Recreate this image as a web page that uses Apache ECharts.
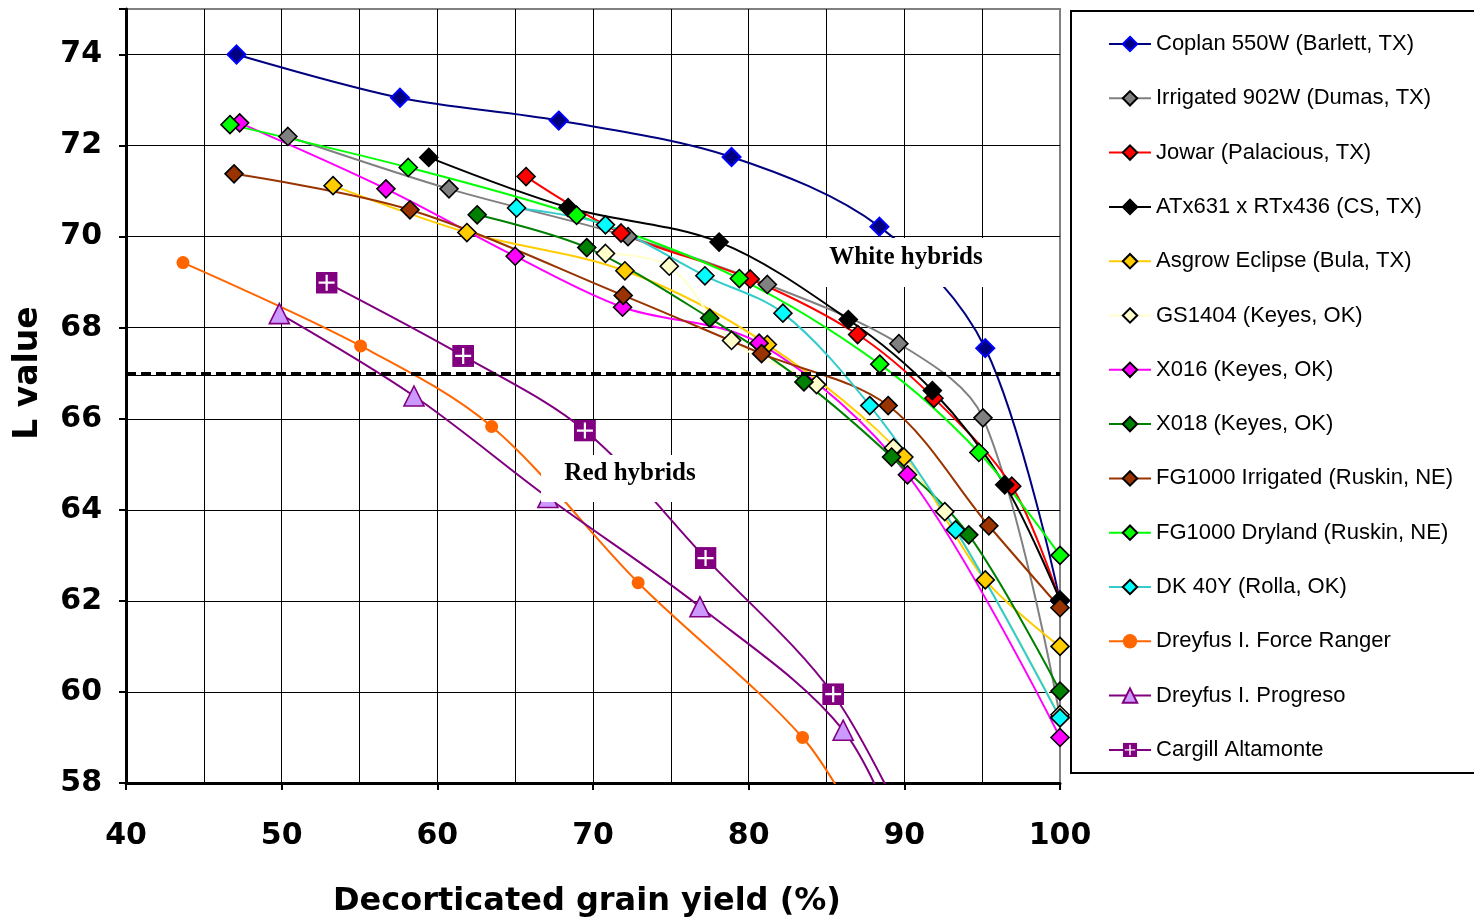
<!DOCTYPE html>
<html><head><meta charset="utf-8">
<script src="https://cdn.jsdelivr.net/npm/echarts@6/dist/echarts.min.js"></script>
<style>html,body{margin:0;padding:0;background:#fff}#c{width:1474px;height:922px}</style>
</head><body><div id="c"></div>
<script>
// ---- data: [decorticated grain yield %, L value] ----
const coplan       = [[47.1,74.0],[57.6,73.05],[67.8,72.55],[78.9,71.75],[88.4,70.22],[95.2,67.55],[100,62.0]];
const irrigated902 = [[50.4,72.2],[60.75,71.05],[72.25,70.0],[81.2,68.95],[89.65,67.65],[95.05,66.02],[100,59.45]];
const jowar        = [[65.7,71.32],[71.8,70.08],[80.1,69.07],[87.0,67.85],[91.9,66.45],[96.9,64.52],[100,62.0]];
const atx631       = [[59.45,71.74],[68.4,70.64],[78.1,69.88],[86.4,68.18],[91.8,66.62],[96.45,64.55],[100,62.02]];
const asgrow       = [[53.3,71.12],[61.9,70.09],[72.05,69.25],[81.2,67.63],[89.97,65.16],[95.2,62.46],[100,61.0]];
const gs1404       = [[70.8,69.63],[74.9,69.35],[78.9,67.72],[84.36,66.75],[89.3,65.36],[92.6,63.96],[100,59.5]];
const x016         = [[47.3,72.5],[56.7,71.05],[65.0,69.57],[71.9,68.45],[80.67,67.66],[90.2,64.77],[100,59.0]];
const x018         = [[62.56,70.48],[69.6,69.76],[77.5,68.21],[83.55,66.81],[89.18,65.16],[94.14,63.45],[100,60.02]];
const fgIrrigated  = [[46.94,71.38],[58.24,70.59],[71.94,68.71],[80.83,67.43],[88.96,66.29],[95.43,63.65],[100,61.85]];
const fgDryland    = [[46.68,72.46],[58.13,71.52],[68.95,70.47],[79.4,69.08],[88.42,67.2],[94.79,65.26],[100,63.0]];
const dk40y        = [[65.09,70.63],[70.8,70.26],[77.19,69.14],[82.2,68.32],[87.78,66.29],[93.29,63.56],[100,59.43]];
const forceRanger  = [[43.66,69.43],[55.07,67.6],[63.49,65.83],[72.9,62.4],[83.46,59.0],[87.5,56.8]];
const progreso     = [[49.85,68.31],[58.5,66.5],[67.1,64.27],[76.87,61.87],[86.07,59.16],[90.5,56.0]];
const cargill      = [[52.89,68.99],[61.66,67.38],[69.48,65.74],[77.23,62.94],[85.43,59.95],[91.0,56.4]];
const seriesNames = ['Coplan 550W (Barlett, TX)','Irrigated 902W (Dumas, TX)','Jowar (Palacious, TX)',
  'ATx631 x RTx436 (CS, TX)','Asgrow Eclipse (Bula, TX)','GS1404 (Keyes, OK)','X016 (Keyes, OK)',
  'X018 (Keyes, OK)','FG1000 Irrigated (Ruskin, NE)','FG1000 Dryland (Ruskin, NE)','DK 40Y (Rolla, OK)',
  'Dreyfus I. Force Ranger','Dreyfus I. Progreso','Cargill Altamonte'];
const thresholdL = 67;
const xTicks = [40,50,60,70,80,90,100];
const yTicks = [58,60,62,64,66,68,70,72,74];

const cargillSvg = "data:image/svg+xml;charset=utf-8," + encodeURIComponent(
  "<svg xmlns='http://www.w3.org/2000/svg' width='22' height='22'><rect width='22' height='22' fill='#800080'/><path d='M11 3V19M3 11H19' stroke='#ffffff' stroke-width='2.2'/></svg>");

function mk(name, data, line, fill, border, symbol, size, bw) {
  return {
    name, type: 'line', data, smooth: 0.33, symbol, symbolSize: size,
    lineStyle: { color: line, width: 2 },
    itemStyle: { color: fill, borderColor: border, borderWidth: bw },
    emphasis: { disabled: true }
  };
}

const D = 18;
const series = [
  mk(seriesNames[0], coplan, '#000080', '#000080', '#0000FF', 'diamond', D, 2),
  mk(seriesNames[1], irrigated902, '#808080', '#808080', '#000', 'diamond', D, 1.6),
  mk(seriesNames[2], jowar, '#FF0000', '#FF0000', '#000', 'diamond', D, 1.6),
  mk(seriesNames[3], atx631, '#000000', '#000000', '#000', 'diamond', D, 1.6),
  mk(seriesNames[4], asgrow, '#FFCC00', '#FFCC00', '#000', 'diamond', D, 1.6),
  mk(seriesNames[5], gs1404, '#FFFFCC', '#FFFFCC', '#000', 'diamond', D, 1.6),
  mk(seriesNames[6], x016, '#FF00FF', '#FF00FF', '#000', 'diamond', D, 1.6),
  mk(seriesNames[7], x018, '#008000', '#008000', '#000', 'diamond', D, 1.6),
  mk(seriesNames[8], fgIrrigated, '#993300', '#993300', '#000', 'diamond', D, 1.6),
  mk(seriesNames[9], fgDryland, '#00FF00', '#00FF00', '#000', 'diamond', D, 1.6),
  mk(seriesNames[10], dk40y, '#33CCCC', '#00FFFF', '#000', 'diamond', D, 1.6),
  mk(seriesNames[11], forceRanger, '#FF6600', '#FF6600', '#FF6600', 'circle', 13, 0),
  mk(seriesNames[12], progreso, '#800080', '#CC99FF', '#800080', 'triangle', 20, 1.6),
  mk(seriesNames[13], cargill, '#800080', '#800080', '#800080', 'image://' + cargillSvg, 22, 0)
];
series[13].markLine = {
  silent: true, symbol: 'none', label: { show: false }, animation: false,
  data: [
    { yAxis: thresholdL, lineStyle: { type: [10, 5], color: '#000', width: 3 } },
    { yAxis: thresholdL - 0.045, lineStyle: { type: 'solid', color: '#000', width: 1.2 } }
  ]
};

const axisFont = { fontFamily: 'DejaVu Sans', fontWeight: 'bold', fontSize: 30, color: '#000' };

const chart = echarts.init(document.getElementById('c'), null, { renderer: 'canvas' });
chart.setOption({
  animation: false,
  backgroundColor: '#fff',
  grid: { left: 126, top: 9, right: 414, bottom: 139, show: true, borderColor: '#808080', borderWidth: 2 },
  xAxis: {
    type: 'value', min: xTicks[0], max: xTicks[xTicks.length - 1], interval: 10,
    axisLine: { lineStyle: { color: '#000', width: 3 } },
    axisTick: { show: true, length: 7, lineStyle: { color: '#000', width: 2 } },
    axisLabel: Object.assign({ margin: 38 }, axisFont),
    splitLine: { show: true, showMaxLine: false, lineStyle: { color: '#000', width: 1 } },
    minorTick: { show: false, splitNumber: 2 },
    minorSplitLine: { show: true, lineStyle: { color: '#000', width: 1 } }
  },
  yAxis: {
    type: 'value', min: yTicks[0], max: 75, interval: 2,
    axisLine: { lineStyle: { color: '#000', width: 3 } },
    axisTick: { show: true, length: 7, lineStyle: { color: '#000', width: 2 } },
    axisLabel: Object.assign({ margin: 24, padding: [11, 0, 0, 0], formatter: v => (yTicks.indexOf(v) >= 0 ? String(v) : '') }, axisFont),
    splitLine: { show: true, showMaxLine: false, lineStyle: { color: '#000', width: 1 } }
  },
  legend: {
    data: seriesNames, orient: 'vertical', left: 1108, top: 33, padding: 0,
    itemWidth: 42, itemHeight: 18, itemGap: 32.3,
    textStyle: { fontFamily: 'Liberation Sans', fontSize: 22, lineHeight: 22, color: '#000' },
    selectedMode: false
  },
  graphic: [
    { type: 'rect', z: 1, shape: { x: 1071, y: 11, width: 420, height: 762 }, style: { fill: '#fff', stroke: '#000', lineWidth: 2 } },
    { type: 'rect', z: 50, shape: { x: 817, y: 238, width: 178, height: 49 }, style: { fill: '#fff' } },
    { type: 'text', z: 51, x: 906, y: 258, style: { text: 'White hybrids', font: 'bold 25px "Liberation Serif"', fill: '#000', align: 'center', verticalAlign: 'middle', textAlign: 'center', textVerticalAlign: 'middle' } },
    { type: 'rect', z: 50, shape: { x: 541, y: 455, width: 178, height: 47 }, style: { fill: '#fff' } },
    { type: 'text', z: 51, x: 630, y: 474, style: { text: 'Red hybrids', font: 'bold 25px "Liberation Serif"', fill: '#000', align: 'center', verticalAlign: 'middle', textAlign: 'center', textVerticalAlign: 'middle' } },
    { type: 'text', z: 51, x: 587, y: 902, style: { text: 'Decorticated grain yield (%)', font: 'bold 32px "DejaVu Sans"', fill: '#000', align: 'center', verticalAlign: 'middle', textAlign: 'center', textVerticalAlign: 'middle' } },
    { type: 'text', z: 51, x: 28, y: 373, rotation: Math.PI / 2, style: { text: 'L value', font: 'bold 33px "DejaVu Sans"', fill: '#000', align: 'center', verticalAlign: 'middle', textAlign: 'center', textVerticalAlign: 'middle' } }
  ],
  series
});
</script></body></html>
